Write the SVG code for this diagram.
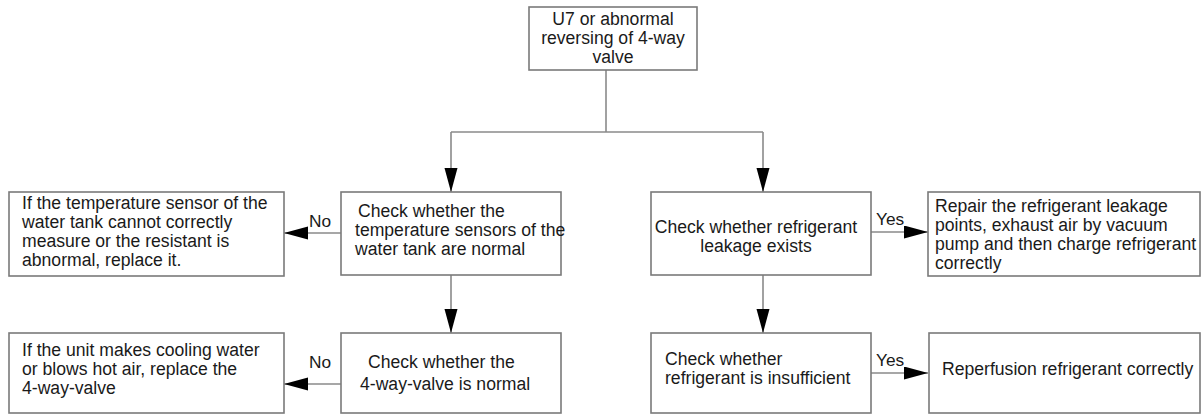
<svg xmlns="http://www.w3.org/2000/svg" width="1203" height="416" viewBox="0 0 1203 416">
  <style>
    .box { fill: #ffffff; stroke: #7a7a7a; stroke-width: 1.6; }
    .txt { font-family: "Liberation Sans", Arial, sans-serif; font-size: 17.6px; fill: #1a1a1a; }
    .mid { text-anchor: middle; }
    .wire { fill: none; stroke: #8a8a8a; stroke-width: 1.6; }
    .lbl { font-family: "Liberation Sans", Arial, sans-serif; font-size: 17.3px; fill: #1a1a1a; }
  </style>
  <defs>
    <marker id="arrow" markerUnits="userSpaceOnUse" markerWidth="25" markerHeight="14" refX="24" refY="6.5" orient="auto">
      <path d="M0,0 L24,6.5 L0,13 Z" fill="#000000"/>
    </marker>
  </defs>

  <rect width="1203" height="416" fill="#ffffff"/>

  <!-- connectors -->
  <g id="connectors">
    <polyline class="wire" points="606,70 606,132"/>
    <polyline class="wire" points="451,132 763,132"/>
    <line class="wire" x1="451" y1="132" x2="451" y2="192" marker-end="url(#arrow)"/>
    <line class="wire" x1="763" y1="132" x2="763" y2="192" marker-end="url(#arrow)"/>
    <line class="wire" x1="341" y1="233" x2="284" y2="233" marker-end="url(#arrow)"/>
    <line class="wire" x1="451" y1="275" x2="451" y2="333" marker-end="url(#arrow)"/>
    <line class="wire" x1="341" y1="384" x2="284" y2="384" marker-end="url(#arrow)"/>
    <line class="wire" x1="871" y1="232" x2="928" y2="232" marker-end="url(#arrow)"/>
    <line class="wire" x1="763" y1="275" x2="763" y2="333" marker-end="url(#arrow)"/>
    <line class="wire" x1="871" y1="373" x2="928" y2="373" marker-end="url(#arrow)"/>
    <text class="lbl" x="309" y="227">No</text>
    <text class="lbl" x="309" y="368">No</text>
    <text class="lbl" x="876" y="225">Yes</text>
    <text class="lbl" x="876" y="366">Yes</text>
  </g>

  <!-- start -->
  <g id="start">
    <rect class="box" x="529" y="7" width="168" height="63"/>
    <text class="txt mid" x="613" y="25">U7 or abnormal</text>
    <text class="txt mid" x="613" y="44">reversing of 4-way</text>
    <text class="txt mid" x="613" y="63">valve</text>
  </g>

  <!-- sensor check -->
  <g id="check-sensor">
    <rect class="box" x="341" y="192" width="220" height="83"/>
    <text class="txt" x="358" y="217">Check whether the</text>
    <text class="txt" x="355" y="236">temperature sensors of the</text>
    <text class="txt" x="355" y="255">water tank are normal</text>
  </g>

  <g id="replace-sensor">
    <rect class="box" x="9" y="192" width="275" height="84"/>
    <text class="txt" x="22" y="209">If the temperature sensor of the</text>
    <text class="txt" x="22" y="228">water tank cannot correctly</text>
    <text class="txt" x="22" y="247">measure or the resistant is</text>
    <text class="txt" x="22" y="266">abnormal, replace it.</text>
  </g>

  <!-- valve check -->
  <g id="check-valve">
    <rect class="box" x="341" y="333" width="220" height="80"/>
    <text class="txt" x="368" y="368">Check whether the</text>
    <text class="txt" x="360" y="390">4-way-valve is normal</text>
  </g>

  <g id="replace-valve">
    <rect class="box" x="9" y="333" width="275" height="80"/>
    <text class="txt" x="22" y="356">If the unit makes cooling water</text>
    <text class="txt" x="22" y="375">or blows hot air, replace the</text>
    <text class="txt" x="22" y="394">4-way-valve</text>
  </g>

  <!-- leakage check -->
  <g id="check-leakage">
    <rect class="box" x="651" y="192" width="220" height="83"/>
    <text class="txt mid" x="756" y="233">Check whether refrigerant</text>
    <text class="txt mid" x="756" y="252">leakage exists</text>
  </g>

  <g id="repair-leakage">
    <rect class="box" x="928" y="192" width="272" height="84"/>
    <text class="txt" x="935" y="212">Repair the refrigerant leakage</text>
    <text class="txt" x="935" y="231">points, exhaust air by vacuum</text>
    <text class="txt" x="935" y="250">pump and then charge refrigerant</text>
    <text class="txt" x="935" y="269">correctly</text>
  </g>

  <!-- charge check -->
  <g id="check-charge">
    <rect class="box" x="651" y="333" width="220" height="80"/>
    <text class="txt" x="665" y="365">Check whether</text>
    <text class="txt" x="665" y="384">refrigerant is insufficient</text>
  </g>

  <g id="recharge">
    <rect class="box" x="929" y="333" width="271" height="80"/>
    <text class="txt" x="942" y="375">Reperfusion refrigerant correctly</text>
  </g>
</svg>
